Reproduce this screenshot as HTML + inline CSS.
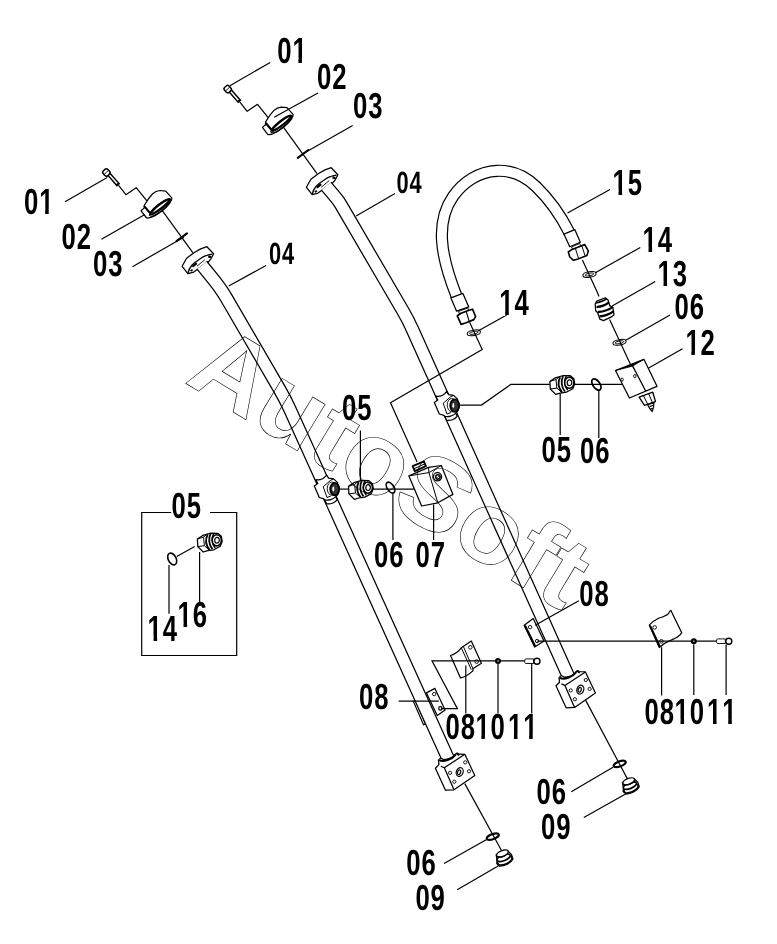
<!DOCTYPE html>
<html><head><meta charset="utf-8"><title>Parts diagram</title>
<style>html,body{margin:0;padding:0;background:#fff}svg{display:block}</style>
</head><body>
<svg style="will-change:transform" width="777" height="944" viewBox="0 0 777 944">
<rect width="777" height="944" fill="#fff"/>
<defs>

<g id="capasm" fill="none" stroke="#000" stroke-width="1.25" stroke-linejoin="round" stroke-linecap="round">
<path d="M118.8 185.7 L125.9 194.7 L136.2 187.7 L147.1 201.2" stroke-width="1.2"/>
<path d="M108.6 173.9 L118.5 185.2" stroke-width="4.4" stroke-linecap="butt"/>
<path d="M108.6 173.9 L117.1 183.6" stroke="#fff" stroke-width="1.5" stroke-linecap="butt"/>
<rect x="-3.1" y="-3.3" width="6.2" height="6.6" rx="2.1" transform="translate(106.4 172.5) rotate(-42)" fill="#fff" stroke-width="1.5"/>
<path d="M104.4 174.2 L107.6 171.2" stroke-width=".9"/>
<path d="M144.3 205.3 C146.5 201.5 149.5 197 152.4 194 C155 191.5 157.5 190.6 159.9 190.5 L165.7 191.1 L171.8 197.8 L171.5 199.8 C168 205.5 161 211.5 155.3 215.4 C152 217.3 148.5 218.2 146.6 218 L141.1 210.8 L144.3 207.9 Z" fill="#fff"/>
<path d="M144.6 206.6 L149.7 212.6" stroke-width="2.2"/>
<ellipse cx="160.3" cy="207.6" rx="13.2" ry="3.6" transform="rotate(-38 160.3 207.6)" stroke-width="1.2"/>
<ellipse cx="160.2" cy="206.6" rx="12" ry="2.1" transform="rotate(-38 160.2 206.6)" stroke-width="2.3" fill="#fff"/>
<path d="M176.5 241.2 L187 233.4" stroke-width="2.1"/>
</g>

<g id="tee" fill="#fff" stroke="#000" stroke-width="1.25" stroke-linejoin="round">
<path d="M-18.6 -8.9 C-15 -8.3 -10.5 -10 -7.8 -13.5 L-5.8 -10.4 L-0.8 -9.7 L3.2 -6 L3.6 5.5 L1.5 8.1 L2.7 11.2 C.5 14.2 -4 16 -7.8 15.1 L-9.7 11.2 L-11.2 10 L-15.1 8.9 L-20.1 -2.7 L-16.6 -5 Z"/>
<path d="M-9.7 11.2 C-6 12.2 -1 10.8 1.5 8.1" fill="none"/>
<path d="M-11.2 -1.9 L-3.5 -8.5 L-0.8 -9.7" fill="none" stroke-width="1"/>
<path d="M-11.2 -1.9 L-7.4 8.9 L-3.5 7.4" fill="none" stroke-width="1"/>
<ellipse cx="-2.6" cy="0" rx="4.6" ry="6.6" fill="none" stroke-width=".9"/>
<ellipse cx=".3" cy=".5" rx="4.5" ry="6.2" fill="#333" stroke-width="1.8"/>
<ellipse cx="-1.1" cy=".4" rx="1" ry="2.4" fill="#fff" stroke="none"/>
</g>

<g id="fit" fill="#fff" stroke="#000" stroke-width="1.25" stroke-linejoin="round">
<path d="M-19.4 -1.3 L-14 -4.9 L-6 -7.2 L1 -7 L4.5 -4 L5.4 1 L3.5 6 L-3 9.5 L-9.1 10.4 L-13.6 11.7 L-19 6.3 Z"/>
<path d="M-19.4 -1.3 L-13.3 -3.2 L-12.4 5.4 L-19 6.3 M-12.4 5.4 L-7.5 9.8" fill="none" stroke-width="1"/>
<path d="M-13.3 -3.2 L-10.2 -5.6" fill="none" stroke-width="1"/>
<path d="M-9.2 -5.6 C-11.5 -1 -11 5 -7.2 9.6" fill="none" stroke-width="1.8"/>
<path d="M-6.2 -6.6 C-8.6 -2 -8 4.5 -4.4 8.8" fill="none" stroke-width="1.8"/>
<path d="M-3 -6.8 C-5.6 -2.5 -5 3.6 -1.6 7.6" fill="none" stroke-width="1.5"/>
<ellipse cx="0" cy="0" rx="4.6" ry="5.6" stroke-width="1.6"/>
<ellipse cx=".2" cy="0" rx="2.3" ry="2.9" stroke-width="1.2"/>
</g>

<g id="blk" fill="#fff" stroke="#000" stroke-width="1.25" stroke-linejoin="round">
<path d="M-8.9 .4 L-5.4 -3.2 L-5.8 -7.8 C-4 -10.5 -2 -9.5 -1 -8.2 C4 -8 9.5 -10.5 11 -13.5 C12 -15.5 14.5 -15 14.4 -12.6 L12.4 -13.9 L20.5 -13.5 L30.5 7.7 L9.7 22 L1.2 22.4 Z"/>
<path d="M0 0 L20.5 -13.5 M0 0 L9.7 22 M0 0 L-3.5 -1.5" fill="none"/>
<path d="M-5 -7.6 C-1 -5.4 7.5 -8 11.4 -13.2" fill="none" stroke-width="2"/>
<circle cx="5.8" cy="5" r="1.6" stroke-width=".9"/>
<circle cx="20.9" cy="-5.4" r="1.6" stroke-width=".9"/>
<circle cx="24.7" cy="3.5" r="1.6" stroke-width=".9"/>
<circle cx="10" cy="13.9" r="1.6" stroke-width=".9"/>
<ellipse cx="15.4" cy="4.2" rx="3.4" ry="4.5" transform="rotate(20 15.4 4.2)" stroke-width="1.2"/>
<ellipse cx="14.8" cy="4.4" rx="1.5" ry="2.4" transform="rotate(20 14.8 4.4)" stroke-width="1.2"/>
</g>

<g id="plug" fill="#fff" stroke="#000" stroke-width="1.25" stroke-linejoin="round">
<path d="M-6.2 1 L-5.2 7.5 L-3 12.6 C2 12.8 8.5 9.5 10.6 5.4 L9 .8 L5.4 -2.6 Z"/>
<ellipse cx="2" cy="7" rx="8" ry="3.6" transform="rotate(-22 2 7)" fill="none" stroke-width="1.5"/>
<ellipse cx="1.2" cy="4.2" rx="7" ry="3" transform="rotate(-22 1.2 4.2)" fill="#fff" stroke-width="1.7"/>
<ellipse cx="0" cy="0" rx="6.2" ry="2.9" transform="rotate(-22)" fill="#fff" stroke-width="1.4"/>
<path d="M-5 2.8 C-2 4.2 3.5 2.4 5.8 -.6" fill="none" stroke-width="1.2"/>
</g>

<g id="wash" fill="none" stroke="#000">
<ellipse rx="6.7" ry="2.7" transform="rotate(-10)" stroke-width="1"/>
<ellipse rx="4.3" ry="1.3" transform="rotate(-10)" stroke-width=".9"/>
</g>

<g id="oring2" fill="none" stroke="#000">
<ellipse rx="6.4" ry="2.5" transform="rotate(-21)" stroke-width="2.1"/>
</g>

<g id="w10"><circle r="3" fill="#000"/><circle r="1" fill="#888"/></g>
<g id="b11" fill="#fff" stroke="#000"><path d="M-11.5 -2.3 L-3.5 -2.3 L-3.5 2.3 L-11.5 2.3 C-12.6 1.2 -12.6 -1.2 -11.5 -2.3 Z" stroke-width=".9"/><circle r="3" stroke-width="1.4"/></g>

</defs>
<g transform="translate(0 0)" fill="#fff" stroke="#000" stroke-width="1.25" stroke-linejoin="round">
<path d="M182.1 266.3 L186.6 258.3 L194.3 252.5 L200.7 248.9 L206.9 246.7 L213.6 253.8 L211 258.6 L208.5 261.8 L196.2 270.2 L193.7 272.1 L187.9 273.7 Z"/>
<path d="M187.9 273.1 C188.5 270 190 267.5 192.1 265 C194.5 262.5 197 260.8 199.5 259.2 C201.5 257.9 203.5 256.6 205.9 255.7 C208 254.8 210.5 254.2 212.3 254.1" fill="none"/>
<path d="M196.9 266.3 L204.9 259.6" fill="none" stroke-width=".9"/>
<path d="M192.4 266.6 L196.8 263.2 M208.2 256.3 L211 257.2" stroke-width="2.3" fill="none"/>
<path d="M190.6 271 L192.6 269.6" stroke-width="1.6" fill="none"/>
</g>
<g transform="translate(124.3 -79)" fill="#fff" stroke="#000" stroke-width="1.25" stroke-linejoin="round">
<path d="M182.1 266.3 L186.6 258.3 L194.3 252.5 L200.7 248.9 L206.9 246.7 L213.6 253.8 L211 258.6 L208.5 261.8 L196.2 270.2 L193.7 272.1 L187.9 273.7 Z"/>
<path d="M187.9 273.1 C188.5 270 190 267.5 192.1 265 C194.5 262.5 197 260.8 199.5 259.2 C201.5 257.9 203.5 256.6 205.9 255.7 C208 254.8 210.5 254.2 212.3 254.1" fill="none"/>
<path d="M196.9 266.3 L204.9 259.6" fill="none" stroke-width=".9"/>
<path d="M192.4 266.6 L196.8 263.2 M208.2 256.3 L211 257.2" stroke-width="2.3" fill="none"/>
<path d="M190.6 271 L192.6 269.6" stroke-width="1.6" fill="none"/>
</g>
<g fill="#fff" stroke="#000" stroke-width="1.25" stroke-linejoin="round">
<path d="M524.2 625.2 L533.2 618.6 L544 641 L534.7 647.1 Z"/>
<path d="M524.9 625.6 L535.3 646.8" stroke-width="2.2"/>
<circle cx="530.1" cy="627.1" r="1.7" stroke-width=".9"/><circle cx="537.1" cy="641" r="1.7" stroke-width=".9"/>
</g>
<path d="M413.0 700.4 L423.5 724.8 L425.5 724.0 L415.2 699.8" fill="none" stroke="#000" stroke-width="1.15" />
<path d="M201.9 265.2 L212 277.6 Q220.8 288.4 226 297.3 L279.8 389.7 Q285.2 399 289.3 408 L448 758.4" fill="none" stroke="#000" stroke-width="13.7" stroke-linejoin="round"/>
<path d="M201.9 265.2 L212 277.6 Q220.8 288.4 226 297.3 L279.8 389.7 Q285.2 399 289.3 408 L448 758.4" fill="none" stroke="#fff" stroke-width="11.2" stroke-linejoin="round"/>
<path d="M326.2 186.2 L335.5 197.2 Q338.7 201 341.2 205.3 L403.2 311.4 Q408.2 320 412.3 329.1 L569.6 679" fill="none" stroke="#000" stroke-width="13.7" stroke-linejoin="round"/>
<path d="M326.2 186.2 L335.5 197.2 Q338.7 201 341.2 205.3 L403.2 311.4 Q408.2 320 412.3 329.1 L569.6 679" fill="none" stroke="#fff" stroke-width="11.2" stroke-linejoin="round"/>
<g fill="#fff" stroke="#000" stroke-width="1.25" stroke-linejoin="round">
<path d="M426.4 692.9 L434.9 688.4 L445.1 709.9 L437.3 715.5 Z"/>
<circle cx="434.2" cy="694.1" r="1.7" stroke-width=".9"/><circle cx="440.4" cy="708.4" r="1.7" stroke-width="1.2"/>
</g>
<use href="#tee" x="334.4" y="488.6"/>
<use href="#tee" x="454.4" y="405.1"/>
<use href="#blk" x="444.3" y="767.8"/>
<use href="#blk" x="564.9" y="685.4"/>
<path d="M161.9 210.2 L192.8 252.7" fill="none" stroke="#000" stroke-width="1.2" />
<path d="M283.2 126.8 L317.0 173.6" fill="none" stroke="#000" stroke-width="1.2" />
<use href="#capasm"/>
<use href="#capasm" x="121.3" y="-83.4"/>
<use href="#oring2" x="492.8" y="836.6"/>
<use href="#oring2" x="619.7" y="763.9"/>
<path d="M464.8 783.6 L501.5 850.5" fill="none" stroke="#000" stroke-width="1.2" />
<path d="M585.7 700.4 L627.8 779.6" fill="none" stroke="#000" stroke-width="1.2" />
<use href="#plug" x="502.4" y="853.6"/>
<use href="#plug" x="628.7" y="781.4"/>
<path d="M456.5 296 C449 277 443 258 442 240 C441 222 445 208 453 196.5 C463 182 479 171.5 497 170.8 C513 170.2 526 177 536 186.5 C550 200 561 216 569.3 232.5" fill="none" stroke="#000" stroke-width="12.2" stroke-linejoin="round"/>
<path d="M456.5 296 C449 277 443 258 442 240 C441 222 445 208 453 196.5 C463 182 479 171.5 497 170.8 C513 170.2 526 177 536 186.5 C550 200 561 216 569.3 232.5" fill="none" stroke="#fff" stroke-width="9.8" stroke-linejoin="round"/>
<g fill="#fff" stroke="#000" stroke-width="1.25" stroke-linejoin="round">
<path d="M450.9 297.9 L462.9 293.4 L468.8 306.9 L456.6 311.2 Z"/>
<path d="M458.6 311.4 L467.8 308 L468.6 310.6 L459.4 314 Z" stroke-width=".9"/>
<path d="M457.3 315.8 L461 313.3 L469 310.2 L472.6 309.2 L475.6 316.6 L473.8 319.6 L465.5 323 L461.1 324.4 Z" stroke-width="1.7"/>
<path d="M466.4 312 L469.2 321.4" fill="none" stroke-width="1.1"/>
<path d="M564 234.2 L574.8 229.6 L580.3 242.2 L569.8 246.8 Z"/>
<path d="M571.6 247 L579.8 243.4 L580.6 246 L572.5 249.5 Z" stroke-width=".9"/>
<path d="M568.3 251.9 L572 249.5 L580.5 246.2 L584.7 244.5 L588.4 251.1 L586.9 255.6 L578 259 L573.5 260.3 L569.8 257 Z" stroke-width="1.6"/>
<path d="M575.4 248.4 L578.6 258.6 M581.8 245.8 L585 255.6" fill="none" stroke-width="1"/>
</g>
<path d="M469.6 322.3 L482.2 349.4 L390.5 402.7 L417.1 462.1" fill="none" stroke="#000" stroke-width="1.2" />
<use href="#wash" x="473.8" y="332.8"/>
<path d="M582.4 260.0 L596.7 291.0 L599.0 296.5" fill="none" stroke="#000" stroke-width="1.2" />
<path d="M609.6 319.5 L630.5 364.5" fill="none" stroke="#000" stroke-width="1.2" />
<use href="#wash" x="589.5" y="274.5"/>
<use href="#wash" x="619.5" y="342.3"/>
<g transform="translate(.3 1.2)" fill="#fff" stroke="#000" stroke-width="1.25" stroke-linejoin="round">
<path d="M594.9 302.8 L596.5 299.8 L605 296.6 L607.6 298.6 L609.5 304.4 L612.6 306.4 L613.7 313.6 L611.6 315.4 L603.2 319.4 L599.6 318 L597.4 311.6 L595.4 309.6 Z"/>
<path d="M595.6 301.6 C598.5 301.6 604 299.4 606.4 297.4" fill="none" stroke-width="1.8"/>
<path d="M596.2 305.6 C600 306 606 303.6 608.6 301" fill="none" stroke-width="2.3"/>
<path d="M597.6 310.6 C602 311.2 609 308.4 612.6 305.6" fill="none" stroke-width="2.1"/>
<path d="M599.2 315 C603 315.4 610 312.8 613.4 310" fill="none" stroke-width="2.3"/>
</g>
<g fill="#fff" stroke="#000" stroke-width="1.25" stroke-linejoin="round">
<path d="M639.1 397.2 L652.8 392.2 L655.5 401.6 L644.5 405.4 Z" stroke-width="1.3"/>
<path d="M643.5 395.8 L647.7 404.3 M648.6 393.6 L652.5 402.7" fill="none" stroke-width="1"/>
<path d="M647.7 405 L653.9 402.3 L653.6 407.1 L652.2 411.5 L649.7 408.5 Z" stroke-width="1.2"/>
<path d="M649.6 406.6 L653.4 405.2 M650.6 409 L652.8 408.2" fill="none" stroke-width="1.2"/>
<path d="M615.5 370.5 L643.9 359.3 L657 386.3 L629.4 398 Z"/>
<path d="M615.5 370.5 L632 364.6 L643.9 359.3 L632.3 366.2 Z" fill="#000" stroke-width=".8"/>
<path d="M632.3 365.4 L645.8 391.3" fill="none"/>
<ellipse cx="622.1" cy="379.6" rx="1.2" ry="1.6" stroke-width=".9"/>
<ellipse cx="634.8" cy="376.1" rx="1.2" ry="1.6" stroke-width=".9"/>
</g>
<path d="M460.2 405.1 L481.5 405.1 L510.8 384.4 L549.8 384.4" fill="none" stroke="#000" stroke-width="1.2" />
<ellipse cx="596.4" cy="384.5" rx="3.5" ry="6.4" transform="rotate(-35 596.4 384.5)" fill="none" stroke="#000" stroke-width="1.7"/>
<path d="M574.5 384.4 L622.3 384.4" fill="none" stroke="#000" stroke-width="1.2" />
<use href="#fit" x="569.3" y="382.7"/>
<path d="M340.0 489.1 L349.0 489.1" fill="none" stroke="#000" stroke-width="1.2" />
<ellipse cx="390.5" cy="487.6" rx="3.3" ry="6.1" transform="rotate(-33 390.5 487.6)" fill="none" stroke="#000" stroke-width="1.7"/>
<path d="M373.0 489.1 L414.4 489.1" fill="none" stroke="#000" stroke-width="1.2" />
<use href="#fit" x="367.9" y="487.6"/>
<g fill="#fff" stroke="#000" stroke-width="1.25" stroke-linejoin="round">
<path d="M412.7 466.2 L423.8 461.3 L425.9 466.2 L414.8 471.2 Z" stroke-width="1.9"/>
<path d="M413.8 468.8 L424.8 463.9" fill="none" stroke-width="1"/>
<path d="M408.9 475.9 L428.6 467.4 L441.3 465.5 L452.9 494.4 L437.8 502.8 L421.6 506 Z"/>
<path d="M428.6 467.4 L428.9 472.6 L437.8 502.8 M408.9 475.9 L428.9 472.6 L441.3 465.5" fill="none" stroke-width="1"/>
<circle cx="437.5" cy="476.8" r="4.1" stroke-width="1.3"/>
<circle cx="437.9" cy="477" r="2.2" stroke-width="1.5"/>
<path d="M436.5 478.8 L439.4 475.6" stroke-width=".8"/>
</g>
<g fill="#fff" stroke="#000" stroke-width="1.25" stroke-linejoin="round">
<path d="M461.3 647.8 L471.3 641.1 L481.4 663.2 L472.9 668.8 L472.9 670.9 C469 674.5 464.5 677 460.5 677.9 L450.5 655.5 C454 654.5 458.5 651.5 461.3 647.8 Z"/>
<path d="M461.3 647.8 L471.3 669.6 M463.4 646.5 L472.9 668.6" fill="none" stroke-width="1"/>
<circle cx="470.3" cy="647.3" r="1.8" stroke-width=".9"/><circle cx="476.7" cy="661.6" r="1.8" stroke-width=".9"/>
<path d="M649.3 625.1 C652 622 655.5 619.6 658.6 618.2 C662 617.2 666.5 616 668.4 613.6 C669.5 612 670 610.6 670.9 610.4 L681.7 632.8 C680 636 676 638.2 671.7 639.8 C667.5 641.4 663 644 659.3 647.5 Z"/>
<path d="M650 625.6 L660 647" fill="none" stroke-width="2"/>
<circle cx="654.7" cy="627.4" r="1.8" stroke-width=".9"/><circle cx="661.4" cy="641.3" r="1.8" stroke-width=".9"/>
</g>
<path d="M441.2 708.6 L457.4 708.6 L432.0 660.9 L525.4 660.9" fill="none" stroke="#000" stroke-width="1.2" />
<use href="#w10" x="498" y="660.9"/>
<use href="#b11" x="537" y="661.2"/>
<path d="M537.1 641.2 L717.3 641.2" fill="none" stroke="#000" stroke-width="1.2" />
<use href="#w10" x="693.8" y="641.2"/>
<use href="#b11" x="728.8" y="641.2"/>
<path d="M171.2 512.5 L141.7 512.5 L141.7 655.5 L236.7 655.5 L236.7 512.5 L210.0 512.5" fill="none" stroke="#000" stroke-width="1.2" />
<ellipse cx="172.2" cy="559" rx="3.9" ry="6.3" transform="rotate(-27 172.2 559)" fill="#fff" stroke="#000" stroke-width="1.6"/>
<path d="M176.7 556.5 L194.7 546.4" fill="none" stroke="#000" stroke-width="1.2" />
<use href="#fit" x="216.8" y="540.3"/>
<path d="M270.2 62.5 L229.5 85.9" fill="none" stroke="#000" stroke-width="1.2" />
<path d="M318.0 93.0 L274.2 117.2" fill="none" stroke="#000" stroke-width="1.2" />
<path d="M352.7 125.5 L303.8 153.2" fill="none" stroke="#000" stroke-width="1.2" />
<path d="M65.0 201.7 L107.2 177.4" fill="none" stroke="#000" stroke-width="1.2" />
<path d="M101.4 239.2 L144.5 214.7" fill="none" stroke="#000" stroke-width="1.2" />
<path d="M132.5 266.7 L183.8 237.2" fill="none" stroke="#000" stroke-width="1.2" />
<path d="M266.0 265.5 L228.7 286.0" fill="none" stroke="#000" stroke-width="1.2" />
<path d="M395.0 193.5 L356.1 216.0" fill="none" stroke="#000" stroke-width="1.2" />
<path d="M610.0 189.5 L567.5 213.0" fill="none" stroke="#000" stroke-width="1.2" />
<path d="M640.3 247.4 L595.8 272.6" fill="none" stroke="#000" stroke-width="1.2" />
<path d="M655.2 281.6 L612.1 306.0" fill="none" stroke="#000" stroke-width="1.2" />
<path d="M670.0 315.0 L626.2 340.1" fill="none" stroke="#000" stroke-width="1.2" />
<path d="M682.5 348.7 L648.7 368.0" fill="none" stroke="#000" stroke-width="1.2" />
<path d="M506.7 315.0 L478.0 331.0" fill="none" stroke="#000" stroke-width="1.2" />
<path d="M560.2 393.4 L560.2 435.0" fill="none" stroke="#000" stroke-width="1.2" />
<path d="M598.8 390.0 L598.8 438.0" fill="none" stroke="#000" stroke-width="1.2" />
<path d="M360.4 430.4 L360.4 481.0" fill="none" stroke="#000" stroke-width="1.2" />
<path d="M392.9 493.7 L392.9 540.0" fill="none" stroke="#000" stroke-width="1.2" />
<path d="M433.6 504.5 L433.6 540.0" fill="none" stroke="#000" stroke-width="1.2" />
<path d="M169.0 565.0 L169.0 613.7" fill="none" stroke="#000" stroke-width="1.2" />
<path d="M199.6 552.0 L199.6 602.5" fill="none" stroke="#000" stroke-width="1.2" />
<path d="M398.7 701.2 L438.8 701.2" fill="none" stroke="#000" stroke-width="1.2" />
<path d="M465.8 665.5 L465.8 713.4" fill="none" stroke="#000" stroke-width="1.2" />
<path d="M498.0 664.0 L498.0 713.4" fill="none" stroke="#000" stroke-width="1.2" />
<path d="M531.7 663.5 L531.7 713.4" fill="none" stroke="#000" stroke-width="1.2" />
<path d="M578.8 600.8 L535.2 625.2" fill="none" stroke="#000" stroke-width="1.2" />
<path d="M661.6 647.3 L661.6 695.5" fill="none" stroke="#000" stroke-width="1.2" />
<path d="M693.8 644.5 L693.8 695.0" fill="none" stroke="#000" stroke-width="1.2" />
<path d="M726.1 644.5 L726.1 695.0" fill="none" stroke="#000" stroke-width="1.2" />
<path d="M571.3 791.7 L613.4 767.0" fill="none" stroke="#000" stroke-width="1.2" />
<path d="M583.8 817.4 L625.6 794.0" fill="none" stroke="#000" stroke-width="1.2" />
<path d="M444.0 863.5 L488.0 838.8" fill="none" stroke="#000" stroke-width="1.2" />
<path d="M457.2 889.8 L499.0 865.5" fill="none" stroke="#000" stroke-width="1.2" />
<g transform="translate(277.2 62.7)"><text transform="rotate(0.03) scale(0.71 1)" font-size="36.2" letter-spacing="1.3" font-family="Liberation Sans, sans-serif" font-weight="bold" style="font-kerning:none">01</text><rect x="14.44" y="-4.61" width="6.70" height="5.41" fill="#fff"/><rect x="24.71" y="-4.61" width="5.98" height="5.41" fill="#fff"/></g>
<g transform="translate(317.0 88.9)"><text transform="rotate(0.03) scale(0.71 1)" font-size="36.2" letter-spacing="1.3" font-family="Liberation Sans, sans-serif" font-weight="bold" style="font-kerning:none">02</text></g>
<g transform="translate(353.0 117.7)"><text transform="rotate(0.03) scale(0.71 1)" font-size="36.2" letter-spacing="1.3" font-family="Liberation Sans, sans-serif" font-weight="bold" style="font-kerning:none">03</text></g>
<g transform="translate(24.0 213.9)"><text transform="rotate(0.03) scale(0.71 1)" font-size="36.2" letter-spacing="1.3" font-family="Liberation Sans, sans-serif" font-weight="bold" style="font-kerning:none">01</text><rect x="14.44" y="-4.61" width="6.70" height="5.41" fill="#fff"/><rect x="24.71" y="-4.61" width="5.98" height="5.41" fill="#fff"/></g>
<g transform="translate(61.5 248.7)"><text transform="rotate(0.03) scale(0.71 1)" font-size="36.2" letter-spacing="1.3" font-family="Liberation Sans, sans-serif" font-weight="bold" style="font-kerning:none">02</text></g>
<g transform="translate(93.0 275.7)"><text transform="rotate(0.03) scale(0.71 1)" font-size="36.2" letter-spacing="1.3" font-family="Liberation Sans, sans-serif" font-weight="bold" style="font-kerning:none">03</text></g>
<g transform="translate(612.6 194.7)"><text transform="rotate(0.03) scale(0.71 1)" font-size="36.2" letter-spacing="1.3" font-family="Liberation Sans, sans-serif" font-weight="bold" style="font-kerning:none">15</text><rect x="-0.77" y="-4.61" width="6.70" height="5.41" fill="#fff"/><rect x="9.50" y="-4.61" width="5.98" height="5.41" fill="#fff"/></g>
<g transform="translate(642.6 252.2)"><text transform="rotate(0.03) scale(0.71 1)" font-size="36.2" letter-spacing="1.3" font-family="Liberation Sans, sans-serif" font-weight="bold" style="font-kerning:none">14</text><rect x="-0.77" y="-4.61" width="6.70" height="5.41" fill="#fff"/><rect x="9.50" y="-4.61" width="5.98" height="5.41" fill="#fff"/></g>
<g transform="translate(657.6 285.9)"><text transform="rotate(0.03) scale(0.71 1)" font-size="36.2" letter-spacing="1.3" font-family="Liberation Sans, sans-serif" font-weight="bold" style="font-kerning:none">13</text><rect x="-0.77" y="-4.61" width="6.70" height="5.41" fill="#fff"/><rect x="9.50" y="-4.61" width="5.98" height="5.41" fill="#fff"/></g>
<g transform="translate(674.5 319.2)"><text transform="rotate(0.03) scale(0.71 1)" font-size="36.2" letter-spacing="1.3" font-family="Liberation Sans, sans-serif" font-weight="bold" style="font-kerning:none">06</text></g>
<g transform="translate(685.4 354.5)"><text transform="rotate(0.03) scale(0.71 1)" font-size="36.2" letter-spacing="1.3" font-family="Liberation Sans, sans-serif" font-weight="bold" style="font-kerning:none">12</text><rect x="-0.77" y="-4.61" width="6.70" height="5.41" fill="#fff"/><rect x="9.50" y="-4.61" width="5.98" height="5.41" fill="#fff"/></g>
<g transform="translate(499.3 315.2)"><text transform="rotate(0.03) scale(0.71 1)" font-size="36.2" letter-spacing="1.3" font-family="Liberation Sans, sans-serif" font-weight="bold" style="font-kerning:none">14</text><rect x="-0.77" y="-4.61" width="6.70" height="5.41" fill="#fff"/><rect x="9.50" y="-4.61" width="5.98" height="5.41" fill="#fff"/></g>
<g transform="translate(541.6 461.6)"><text transform="rotate(0.03) scale(0.71 1)" font-size="36.2" letter-spacing="1.3" font-family="Liberation Sans, sans-serif" font-weight="bold" style="font-kerning:none">05</text></g>
<g transform="translate(580.0 463.2)"><text transform="rotate(0.03) scale(0.71 1)" font-size="36.2" letter-spacing="1.3" font-family="Liberation Sans, sans-serif" font-weight="bold" style="font-kerning:none">06</text></g>
<g transform="translate(342.0 420.4)"><text transform="rotate(0.03) scale(0.71 1)" font-size="36.2" letter-spacing="1.3" font-family="Liberation Sans, sans-serif" font-weight="bold" style="font-kerning:none">05</text></g>
<g transform="translate(374.0 567.2)"><text transform="rotate(0.03) scale(0.71 1)" font-size="36.2" letter-spacing="1.3" font-family="Liberation Sans, sans-serif" font-weight="bold" style="font-kerning:none">06</text></g>
<g transform="translate(415.6 567.2)"><text transform="rotate(0.03) scale(0.71 1)" font-size="36.2" letter-spacing="1.3" font-family="Liberation Sans, sans-serif" font-weight="bold" style="font-kerning:none">07</text></g>
<g transform="translate(171.5 517.7)"><text transform="rotate(0.03) scale(0.71 1)" font-size="36.2" letter-spacing="1.3" font-family="Liberation Sans, sans-serif" font-weight="bold" style="font-kerning:none">05</text></g>
<g transform="translate(147.6 640.7)"><text transform="rotate(0.03) scale(0.71 1)" font-size="36.2" letter-spacing="1.3" font-family="Liberation Sans, sans-serif" font-weight="bold" style="font-kerning:none">14</text><rect x="-0.77" y="-4.61" width="6.70" height="5.41" fill="#fff"/><rect x="9.50" y="-4.61" width="5.98" height="5.41" fill="#fff"/></g>
<g transform="translate(177.6 626.9)"><text transform="rotate(0.03) scale(0.71 1)" font-size="36.2" letter-spacing="1.3" font-family="Liberation Sans, sans-serif" font-weight="bold" style="font-kerning:none">16</text><rect x="-0.77" y="-4.61" width="6.70" height="5.41" fill="#fff"/><rect x="9.50" y="-4.61" width="5.98" height="5.41" fill="#fff"/></g>
<g transform="translate(359.0 709.2)"><text transform="rotate(0.03) scale(0.71 1)" font-size="36.2" letter-spacing="1.3" font-family="Liberation Sans, sans-serif" font-weight="bold" style="font-kerning:none">08</text></g>
<g transform="translate(445.5 739.2)"><text transform="rotate(0.03) scale(0.71 1)" font-size="36.2" letter-spacing="1.3" font-family="Liberation Sans, sans-serif" font-weight="bold" style="font-kerning:none">08</text></g>
<g transform="translate(475.4 739.2)"><text transform="rotate(0.03) scale(0.71 1)" font-size="36.2" letter-spacing="1.3" font-family="Liberation Sans, sans-serif" font-weight="bold" style="font-kerning:none">10</text><rect x="-0.77" y="-4.61" width="6.70" height="5.41" fill="#fff"/><rect x="9.50" y="-4.61" width="5.98" height="5.41" fill="#fff"/></g>
<g transform="translate(508.0 739.2)"><text transform="rotate(0.03) scale(0.71 1)" font-size="36.2" letter-spacing="1.3" font-family="Liberation Sans, sans-serif" font-weight="bold" style="font-kerning:none">11</text><rect x="-0.77" y="-4.61" width="6.70" height="5.41" fill="#fff"/><rect x="9.50" y="-4.61" width="5.98" height="5.41" fill="#fff"/><rect x="14.44" y="-4.61" width="6.70" height="5.41" fill="#fff"/><rect x="24.71" y="-4.61" width="5.98" height="5.41" fill="#fff"/></g>
<g transform="translate(579.2 605.8)"><text transform="rotate(0.03) scale(0.71 1)" font-size="36.2" letter-spacing="1.3" font-family="Liberation Sans, sans-serif" font-weight="bold" style="font-kerning:none">08</text></g>
<g transform="translate(644.5 724.2)"><text transform="rotate(0.03) scale(0.71 1)" font-size="36.2" letter-spacing="1.3" font-family="Liberation Sans, sans-serif" font-weight="bold" style="font-kerning:none">08</text></g>
<g transform="translate(674.6 724.2)"><text transform="rotate(0.03) scale(0.71 1)" font-size="36.2" letter-spacing="1.3" font-family="Liberation Sans, sans-serif" font-weight="bold" style="font-kerning:none">10</text><rect x="-0.77" y="-4.61" width="6.70" height="5.41" fill="#fff"/><rect x="9.50" y="-4.61" width="5.98" height="5.41" fill="#fff"/></g>
<g transform="translate(707.1 724.2)"><text transform="rotate(0.03) scale(0.71 1)" font-size="36.2" letter-spacing="1.3" font-family="Liberation Sans, sans-serif" font-weight="bold" style="font-kerning:none">11</text><rect x="-0.77" y="-4.61" width="6.70" height="5.41" fill="#fff"/><rect x="9.50" y="-4.61" width="5.98" height="5.41" fill="#fff"/><rect x="14.44" y="-4.61" width="6.70" height="5.41" fill="#fff"/><rect x="24.71" y="-4.61" width="5.98" height="5.41" fill="#fff"/></g>
<g transform="translate(536.5 803.5)"><text transform="rotate(0.03) scale(0.71 1)" font-size="36.2" letter-spacing="1.3" font-family="Liberation Sans, sans-serif" font-weight="bold" style="font-kerning:none">06</text></g>
<g transform="translate(541.0 839.0)"><text transform="rotate(0.03) scale(0.71 1)" font-size="36.2" letter-spacing="1.3" font-family="Liberation Sans, sans-serif" font-weight="bold" style="font-kerning:none">09</text></g>
<g transform="translate(406.2 874.6)"><text transform="rotate(0.03) scale(0.71 1)" font-size="36.2" letter-spacing="1.3" font-family="Liberation Sans, sans-serif" font-weight="bold" style="font-kerning:none">06</text></g>
<g transform="translate(415.4 910.2)"><text transform="rotate(0.03) scale(0.71 1)" font-size="36.2" letter-spacing="1.3" font-family="Liberation Sans, sans-serif" font-weight="bold" style="font-kerning:none">09</text></g>
<g transform="translate(269.0 263.5)"><text transform="rotate(0.03) scale(0.71 1)" font-size="30.8" letter-spacing="1.1" font-family="Liberation Sans, sans-serif" font-weight="bold" style="font-kerning:none">04</text></g>
<g transform="translate(396.5 192.6)"><text transform="rotate(0.03) scale(0.71 1)" font-size="30.8" letter-spacing="1.1" font-family="Liberation Sans, sans-serif" font-weight="bold" style="font-kerning:none">04</text></g>
<text transform="translate(183.6 382.1) rotate(31.2) scale(1.024 1)" x="0" y="0" font-family="Liberation Sans, sans-serif" font-weight="bold" font-size="102.5" fill="none" stroke="#000" stroke-width=".6">AutoSoft</text>
</svg></body></html>
